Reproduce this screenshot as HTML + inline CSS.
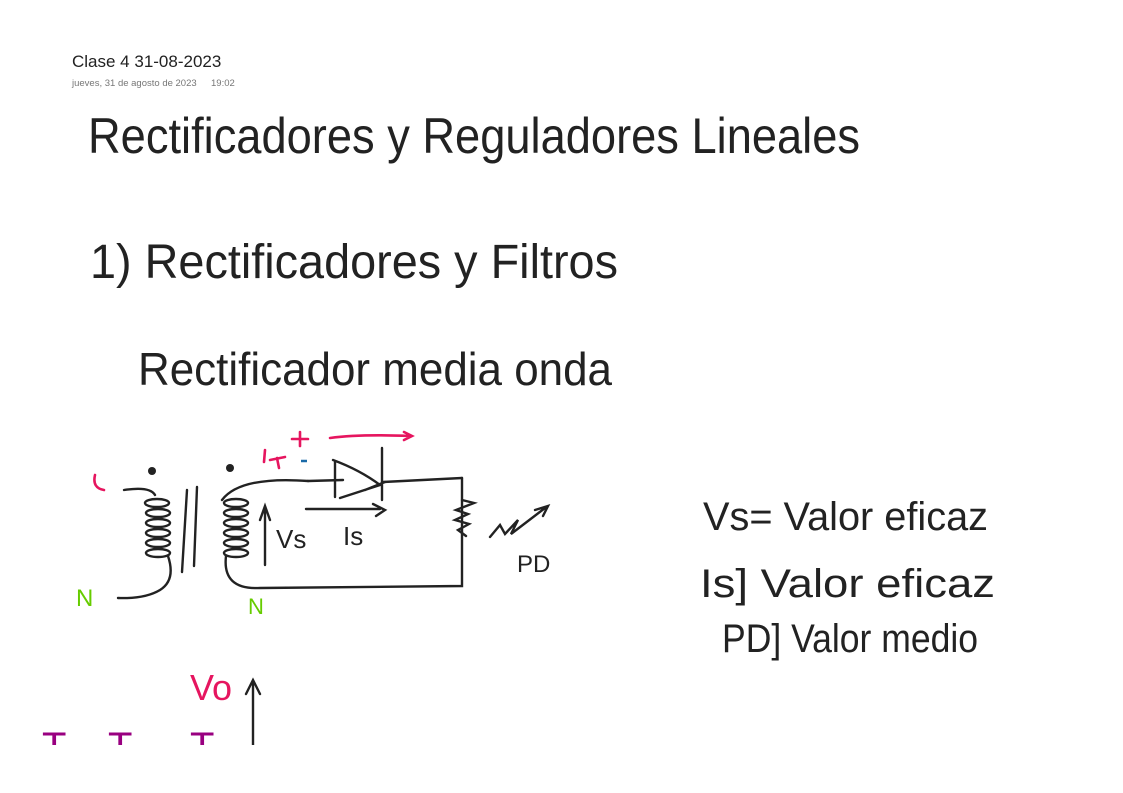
<!DOCTYPE html>
<html><head><meta charset="utf-8"><style>
html,body{margin:0;padding:0;background:#fff;width:1123px;height:793px;overflow:hidden}
svg{display:block}
</style></head><body>
<svg width="1123" height="793" viewBox="0 0 1123 793" xmlns="http://www.w3.org/2000/svg">
<text x="72" y="67" font-family="Liberation Sans, sans-serif" font-size="17" fill="#222">Clase 4 31-08-2023</text>
<text x="72" y="86" font-family="Liberation Sans, sans-serif" font-size="9.5" fill="#777">jueves, 31 de agosto de 2023</text>
<text x="211" y="86" font-family="Liberation Sans, sans-serif" font-size="9.5" fill="#777">19:02</text>
<g font-family="Liberation Sans, sans-serif" fill="#222" font-weight="normal">
<text x="88" y="153" font-size="50" textLength="772" lengthAdjust="spacingAndGlyphs">Rectificadores  y  Reguladores Lineales</text>
<text x="90" y="278" font-size="48" textLength="528" lengthAdjust="spacingAndGlyphs">1) Rectificadores  y  Filtros</text>
<text x="138" y="385" font-size="46" textLength="474" lengthAdjust="spacingAndGlyphs">Rectificador  media  onda</text>
<text x="703" y="530" font-size="40" textLength="285" lengthAdjust="spacingAndGlyphs">Vs= Valor eficaz</text>
<text x="700" y="597" font-size="40" textLength="295" lengthAdjust="spacingAndGlyphs">Is] Valor eficaz</text>
<text x="722" y="652" font-size="40" textLength="256" lengthAdjust="spacingAndGlyphs">PD] Valor medio</text>
<text x="276" y="548" font-size="26">Vs</text>
<text x="343" y="545" font-size="26">Is</text>
<text x="517" y="572" font-size="24">PD</text>
</g>
<g fill="none" stroke="#222" stroke-width="2.4" stroke-linecap="round">
<!-- primary coil -->
<path d="M124 490 Q150 486 155 495"/>
<ellipse cx="157" cy="503" rx="12" ry="4"/>
<ellipse cx="158" cy="513" rx="12" ry="4"/>
<ellipse cx="158" cy="523" rx="12" ry="4"/>
<ellipse cx="158" cy="533" rx="12" ry="4"/>
<ellipse cx="158" cy="543" rx="12" ry="4"/>
<ellipse cx="158" cy="553" rx="12" ry="4"/>
<path d="M168 556 Q176 580 160 590 Q145 599 118 598"/>
<!-- core -->
<path d="M187 490 L182 572 M197 487 L194 566"/>
<!-- secondary coil -->
<path d="M308 481 Q240 476 222 500"/>
<ellipse cx="236" cy="503" rx="12" ry="4"/>
<ellipse cx="236" cy="513" rx="12" ry="4"/>
<ellipse cx="236" cy="523" rx="12" ry="4"/>
<ellipse cx="236" cy="533" rx="12" ry="4"/>
<ellipse cx="236" cy="543" rx="12" ry="4"/>
<ellipse cx="236" cy="553" rx="12" ry="4"/>
<path d="M226 556 Q222 590 260 588 L462 586 L462 478"/>
<path d="M308 481 L343 480 M383 482 L462 478"/>
<!-- diode -->
<path d="M335 462 L335 497 M333 460 Q360 470 380 485 L340 498 M382 448 L382 500 M365 490 L385 482"/>
<!-- Is arrow -->
<path d="M306 509 L380 509 M376 516 L385 510 L373 504"/>
<!-- Vs arrow -->
<path d="M265 565 L265 508 M260 520 L265 506 L270 520"/>
<!-- resistor -->
<path d="M462 500 L474 503 L456 510 L468 514 L455 520 L469 524 L458 530 L466 536 M490 537 L500 525 L505 534 L518 520 L511 534 L545 508 M535 510 L548 506 L543 516"/>
<!-- vertical axis -->
<path d="M253 745 L253 680 M246 694 L253 680 L260 694"/>
</g>
<g fill="#222"><circle cx="152" cy="471" r="4"/><circle cx="230" cy="468" r="4"/></g>
<g fill="none" stroke="#e6155f" stroke-width="2.6" stroke-linecap="round">
<path d="M300 432 L300 446 M292 439 L308 439 M330 438 Q360 434 410 436 M404 432 L412 436 L404 440"/>
<path d="M95 475 Q92 488 104 490 M265 450 L264 462 M270 460 L285 457 M277 458 L279 468"/>
</g>
<path d="M301 461 L307 461" stroke="#1a6aa8" stroke-width="2.5"/>
<g font-family="Liberation Sans, sans-serif">
<text x="76" y="606" font-size="24" fill="#66cc00">N</text>
<text x="248" y="614" font-size="22" fill="#66cc00">N</text>
<text x="190" y="700" font-size="36" fill="#e6155f">Vo</text>
<text x="42" y="760" font-size="40" fill="#990080">T</text>
<text x="108" y="760" font-size="40" fill="#990080">T</text>
<text x="190" y="760" font-size="40" fill="#990080">T</text>
</g>
<rect x="0" y="745" width="1123" height="48" fill="#fff"/>
</svg>
</body></html>
